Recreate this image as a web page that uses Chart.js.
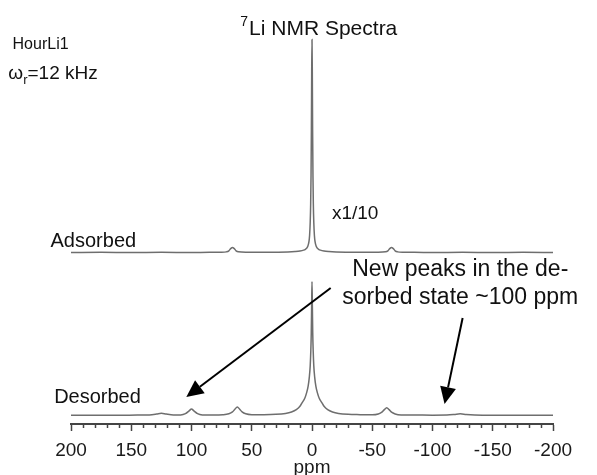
<!DOCTYPE html>
<html>
<head>
<meta charset="utf-8">
<script src="https://cdn.jsdelivr.net/npm/chart.js@4"></script>
<style>
  html, body { margin: 0; padding: 0; background: #fff; }
</style>
</head>
<body>
<canvas id="myChart" width="597" height="475"></canvas>
<script>
// 7Li MAS NMR, sample HourLi1, 12 kHz spinning
// [ppm, intensity in % of that trace's own maximum]
var adsorbed = [
    [200, 0], [175, 0.1], [150, 0], [125, 0.1], [100, 0], [85, 0.1], [75, 0.1],
    [71, 0.3], [69, 0.8], [67.5, 1.8], [66, 2.4], [64.5, 1.8], [63, 0.8], [61, 0.3],
    [55, 0.1], [45, 0.1], [30, 0.15], [20, 0.25], [14, 0.45], [10, 0.7], [7, 1.1],
    [5.5, 1.5], [4.5, 2.0], [3.5, 2.9], [2.5, 5.2], [2, 8], [1.5, 14], [1.1, 23],
    [0.8, 36], [0.5, 58], [0.25, 85], [0, 100], [-0.25, 85], [-0.5, 58], [-0.8, 36],
    [-1.1, 23], [-1.5, 14], [-2, 8], [-2.5, 5.2], [-3.5, 2.9], [-4.5, 2.0], [-5.5, 1.5],
    [-7, 1.1], [-10, 0.7], [-14, 0.45], [-20, 0.25], [-30, 0.15], [-45, 0.1], [-55, 0.1],
    [-61, 0.3], [-63, 0.8], [-64.5, 1.8], [-66, 2.4], [-67.5, 1.8], [-69, 0.8], [-71, 0.3],
    [-75, 0.1], [-85, 0.1], [-100, 0], [-125, 0.1], [-150, 0], [-175, 0.1], [-200, 0]
];

var desorbed = [
    [200, 0.3], [180, 0.4], [160, 0.3], [145, 0.5], [135, 0.6], [129, 1.2], [125, 1.8],
    [121, 1.2], [115, 0.6], [109, 0.6], [105, 1.5], [102, 3.6], [100, 5], [98, 3.6],
    [95, 1.5], [91, 0.6], [82, 0.5], [74, 0.7], [69, 1.4], [66, 2.8], [64, 4.8], [62, 6.5],
    [60, 4.8], [58, 2.8], [55, 1.4], [50, 0.8], [40, 0.8], [30, 1.0], [22, 1.7], [17, 2.8],
    [13, 4.5], [10, 7], [8, 10], [6, 13], [4.5, 17], [3.2, 22], [2.2, 29], [1.5, 37],
    [1, 48], [0.6, 62], [0.3, 82], [0, 100], [-0.3, 82], [-0.6, 62], [-1, 48], [-1.5, 37],
    [-2.2, 29], [-3.2, 22], [-4.5, 17], [-6, 13], [-8, 10], [-10, 7], [-13, 4.5],
    [-17, 2.8], [-22, 1.7], [-30, 1.0], [-40, 0.8], [-50, 0.7], [-55, 1.3], [-58, 2.6],
    [-60, 4.5], [-62, 6], [-64, 4.5], [-66, 2.6], [-69, 1.3], [-74, 0.6], [-85, 0.5],
    [-100, 0.4], [-112, 0.5], [-118, 0.9], [-123, 1.4], [-128, 0.9], [-135, 0.5],
    [-150, 0.3], [-170, 0.4], [-185, 0.3], [-200, 0.3]
];

var majorTicks = [200, 150, 100, 50, 0, -50, -100, -150, -200];
var traceNames = ['Adsorbed', 'Desorbed'];

// stacking: baseline offset and height of 100 % in y units (1 unit = 1 px here)
var stack = {
    Adsorbed: { base: 171.5, full: 213 },
    Desorbed: { base: 8.3, full: 134 }
};

function toPoints(arr, name) {
    var s = stack[name];
    return arr.map(function (p) {
        return { x: p[0], y: s.base + s.full * p[1] / 100 };
    });
}

var FONT = '"Liberation Sans", Arial, Helvetica, sans-serif';

function drawArrow(ctx, x1, y1, x2, y2) {
    var ang = Math.atan2(y2 - y1, x2 - x1);
    var len = 17, half = 8;
    var bx = x2 - len * Math.cos(ang), by = y2 - len * Math.sin(ang);
    ctx.beginPath();
    ctx.moveTo(x1, y1);
    ctx.lineTo(bx, by);
    ctx.lineWidth = 2;
    ctx.strokeStyle = '#000';
    ctx.stroke();
    ctx.beginPath();
    ctx.moveTo(x2, y2);
    ctx.lineTo(bx + half * Math.sin(ang), by - half * Math.cos(ang));
    ctx.lineTo(bx - half * Math.sin(ang), by + half * Math.cos(ang));
    ctx.closePath();
    ctx.fillStyle = '#000';
    ctx.fill();
}

// text, arrows and minor ticks, placed through the chart scales
var notes = {
    id: 'notes',
    afterDraw: function (chart) {
        var ctx = chart.ctx;
        var xs = chart.scales.x, ys = chart.scales.y;
        var X = function (v) { return xs.getPixelForValue(v); };
        var Y = function (v) { return ys.getPixelForValue(v); };

        ctx.save();
        // minor ticks
        ctx.strokeStyle = '#444';
        ctx.lineWidth = 1.5;
        xs.ticks.forEach(function (t) {
            if (t.value % 50 !== 0) {
                var px = Math.round(X(t.value)) + 0.5;
                ctx.beginPath();
                ctx.moveTo(px, chart.chartArea.bottom);
                ctx.lineTo(px, chart.chartArea.bottom + 4);
                ctx.stroke();
            }
        });

        ctx.textBaseline = 'alphabetic';
        ctx.textAlign = 'left';
        ctx.fillStyle = '#111';

        // title with superscript 7
        var tx = X(59.5), ty = Y(389);
        ctx.font = '14px ' + FONT;
        ctx.fillText('7', tx, ty - 9);
        var w7 = ctx.measureText('7').width;
        ctx.font = '21px ' + FONT;
        ctx.fillText('Li NMR Spectra', tx + w7 + 1, ty);

        ctx.font = '16px ' + FONT;
        ctx.fillText('HourLi1', X(248.5), Y(375));

        // omega_r = 12 kHz
        var ox = X(252), oy = Y(345);
        ctx.font = '19px ' + FONT;
        ctx.fillText('\u03c9', ox, oy);
        var wo = ctx.measureText('\u03c9').width;
        ctx.font = '13px ' + FONT;
        ctx.fillText('r', ox + wo, oy + 5);
        var wr = ctx.measureText('r').width;
        ctx.font = '19px ' + FONT;
        ctx.fillText('=12 kHz', ox + wo + wr, oy);

        ctx.font = '19px ' + FONT;
        ctx.fillText('x1/10', X(-16.5), Y(205));
        ctx.font = '20px ' + FONT;
        ctx.fillText(traceNames[0], X(217), Y(177));
        ctx.fillText(traceNames[1], X(214), Y(21));

        ctx.font = '23px ' + FONT;
        ctx.fillText('New peaks in the de-', X(-33.4), Y(148));
        ctx.fillText('sorbed state ~100 ppm', X(-25.1), Y(120));

        drawArrow(ctx, X(-15.5), Y(136), X(104.3), Y(27));
        drawArrow(ctx, X(-125), Y(106), X(-110), Y(20));
        ctx.restore();
    }
};

var ctx = document.getElementById('myChart').getContext('2d');
var myChart = new Chart(ctx, {
    type: 'line',
    data: {
        datasets: [
            {
                label: traceNames[0],
                data: toPoints(adsorbed, 'Adsorbed'),
                borderColor: '#6e6e6e',
                borderWidth: 1.5,
                pointRadius: 0,
                fill: false,
                cubicInterpolationMode: 'monotone'
            },
            {
                label: traceNames[1],
                data: toPoints(desorbed, 'Desorbed'),
                borderColor: '#6e6e6e',
                borderWidth: 1.5,
                pointRadius: 0,
                fill: false,
                cubicInterpolationMode: 'monotone'
            }
        ]
    },
    options: {
        responsive: false,
        animation: false,
        devicePixelRatio: 1,
        layout: { padding: { left: 71, right: 44, top: 24, bottom: 0 } },
        plugins: {
            legend: { display: false },
            tooltip: { enabled: false }
        },
        scales: {
            x: {
                type: 'linear',
                reverse: true,
                min: -200,
                max: 200,
                border: { display: true, color: '#444', width: 2 },
                grid: {
                    display: true,
                    drawOnChartArea: false,
                    drawTicks: true,
                    tickLength: 7,
                    tickWidth: 1.5,
                    tickColor: function (c) {
                        return c.tick && c.tick.value % 50 === 0 ? '#444' : 'rgba(0,0,0,0)';
                    }
                },
                ticks: {
                    stepSize: 10,
                    autoSkip: false,
                    maxRotation: 0,
                    padding: 8,
                    color: '#1a1a1a',
                    font: { family: FONT, size: 19 },
                    callback: function (v) {
                        return majorTicks.indexOf(v) >= 0 ? String(v) : '';
                    }
                },
                title: {
                    display: true,
                    text: 'ppm',
                    color: '#1a1a1a',
                    font: { family: FONT, size: 19, lineHeight: 1 },
                    padding: { top: 0, bottom: -2 }
                },
                afterFit: function (scale) {
                    scale.height = 51;
                    scale.paddingLeft = 0;
                    scale.paddingRight = 0;
                }
            },
            y: {
                display: false,
                min: 0,
                max: 400
            }
        }
    },
    plugins: [notes]
});
</script>
</body>
</html>
